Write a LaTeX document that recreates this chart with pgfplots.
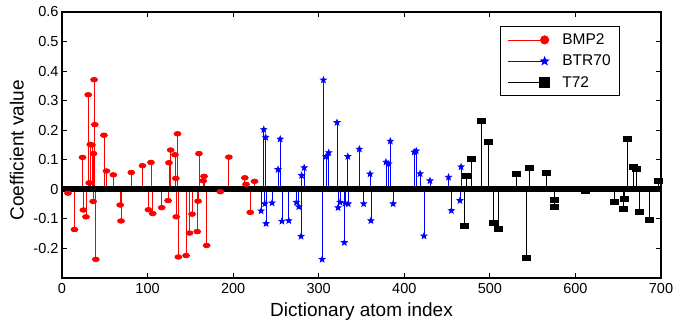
\documentclass[border=0pt]{standalone}
\usepackage{fontspec}
\setmainfont{Liberation Sans}
\usepackage{pgfplots}
\pgfplotsset{compat=1.18}
\usetikzlibrary{calc}
\pgfdeclareplotmark{pstar}{%
\pgfpathmoveto{\pgfpointpolar{90}{\pgfplotmarksize}}%
\pgfpathlineto{\pgfpointpolar{126}{0.42\pgfplotmarksize}}%
\pgfpathlineto{\pgfpointpolar{162}{\pgfplotmarksize}}%
\pgfpathlineto{\pgfpointpolar{198}{0.42\pgfplotmarksize}}%
\pgfpathlineto{\pgfpointpolar{234}{\pgfplotmarksize}}%
\pgfpathlineto{\pgfpointpolar{270}{0.42\pgfplotmarksize}}%
\pgfpathlineto{\pgfpointpolar{306}{\pgfplotmarksize}}%
\pgfpathlineto{\pgfpointpolar{342}{0.42\pgfplotmarksize}}%
\pgfpathlineto{\pgfpointpolar{18}{\pgfplotmarksize}}%
\pgfpathlineto{\pgfpointpolar{54}{0.42\pgfplotmarksize}}%
\pgfpathclose\pgfusepathqfillstroke}
\pgfplotsset{
  stemleg/.style={legend image code/.code={%
    \draw[##1,sharp plot] (0pt,0pt) -- (37pt,0pt);
    \draw[##1,only marks,mark options={scale=#1}] plot coordinates {(37pt,0pt)};}},
}
\begin{document}
\begin{tikzpicture}
\begin{axis}[name=ax,
  scale only axis, width=599pt, height=266pt,
  xmin=0, xmax=700, ymin=-0.3, ymax=0.6,
  xtick={0,100,200,300,400,500,600,700},
  ytick={-0.2,-0.1,0,0.1,0.2,0.3,0.4,0.5,0.6},
  /pgf/number format/assume math mode=true,
  tick label style={font=\fontsize{14.5}{16}\selectfont},
  xticklabel style={yshift=-2pt},
  major tick length=5pt,
  tick style={black, line width=0.8pt},
  axis line style={line width=1.2pt},
  xlabel={Dictionary atom index},
  ylabel={Coefficient value},
  label style={font=\fontsize{19}{22}\selectfont},
  xlabel style={at={(axis description cs:0.5,0)}, anchor=base, inner sep=0pt, yshift=-39pt},
  ylabel style={at={(axis description cs:-0.064,0.48)}, anchor=base, inner sep=0pt},
  legend style={at={(axis description cs:0.932,0.947)}, anchor=north east,
    draw=black, line width=1.3pt, font=\fontsize{15.5}{18}\selectfont,
    inner xsep=7pt, inner ysep=5pt, row sep=5pt, cells={anchor=west},
    /tikz/every odd column/.append style={column sep=11pt}},
]
\addplot[red, line width=0.8pt, ycomb, mark=*, mark size=2.3pt, mark options={xscale=1.5}, stemleg=1.8] coordinates {
(7,-0.013) (14.6,-0.136) (24,0.108) (25,-0.07) (28,-0.093) (30.6,0.32) (31.8,0.022)
(33,0.152) (35,0.150) (36.8,0.121) (36.4,-0.041) (37.5,0.371) (38.3,0.219) (39.5,-0.237)
(49,0.183) (52,0.062) (60,0.049) (68,-0.053) (69,-0.107) (81,0.057) (94,0.08)
(101,-0.069) (104,0.091) (106,-0.082) (116.5,-0.062) (124,-0.038) (125,0.09) (127,0.133)
(132,0.117) (133,0.037) (133.5,-0.093) (135,0.188) (136,-0.229) (145,-0.224) (149,-0.148)
(152,-0.084) (158,-0.143) (159,-0.04) (160,0.121) (165,0.029) (166,0.044) (169,-0.19)
(185,-0.008) (195,0.109) (213.6,0.039) (215,0.017) (220,-0.078) (225,0.027)
};
\addlegendentry{BMP2}
\addplot[blue, line width=0.8pt, ycomb, mark=pstar, mark size=3pt, stemleg=1.4] coordinates {
(232.7,-0.073) (235.8,0.202) (237,-0.049) (238,0.176) (238.5,-0.116) (245.5,-0.046)
(252.5,0.067) (255,0.17) (257,-0.108) (265,-0.106) (274,-0.044) (276.7,-0.059)
(279.4,-0.159) (280,0.047) (283,0.073) (304,-0.237) (305.5,0.37) (308.6,0.111)
(311.7,0.124) (321.4,0.226) (322.6,-0.062) (325,-0.044) (330,-0.18) (331,-0.047)
(334,0.111) (334.5,-0.049) (347.5,0.136) (352.5,-0.049) (360,0.052) (361,-0.106)
(378.6,0.092) (381.7,0.086) (383.7,0.163) (387,-0.049) (411.6,0.126) (414,0.13)
(418.5,0.053) (423,-0.158) (430,0.029) (451.7,0.041) (455,-0.072) (465,-0.038) (466.4,0.076)
};
\addlegendentry{BTR70}
\addplot[black, line width=0.9pt, ycomb, mark=square*, mark size=2.5pt, mark options={xscale=1.6}, stemleg=1.9] coordinates {
(470.7,-0.124) (473,0.046) (478,0.104) (490,0.23) (498.5,0.159) (504,-0.113) (510,-0.133)
(531,0.052) (543,-0.233) (546,0.073) (565.6,0.054) (575,-0.037) (576,-0.058) (612,-0.006)
(646,-0.044) (656.7,-0.031) (656,-0.067) (660.5,0.169) (668,0.077) (671,0.07) (675,-0.077)
(686.6,-0.102) (697,0.03)
};
\addlegendentry{T72}
\addplot[black, line width=6pt, forget plot] coordinates {(0,0) (700,0)};
\end{axis}
\pgfresetboundingbox
\path[use as bounding box] ($(ax.south west)+(-62pt,-46pt)$) rectangle ($(ax.north east)+(12pt,12pt)$);
\end{tikzpicture}
\end{document}
